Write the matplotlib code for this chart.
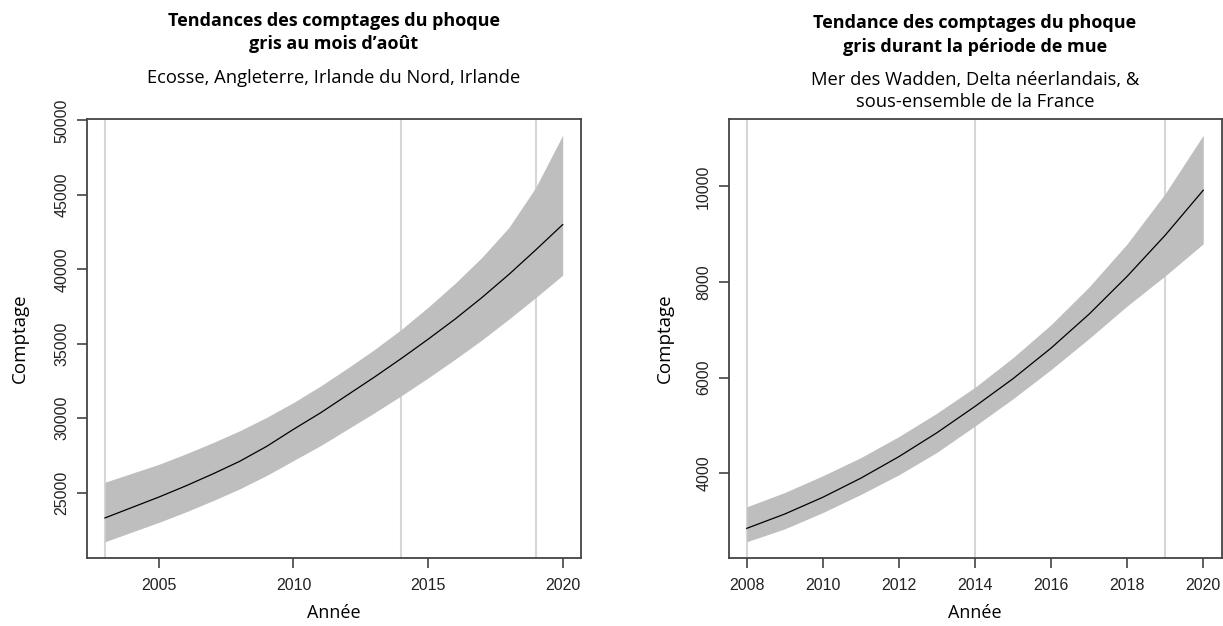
import matplotlib
matplotlib.use("Agg")
import matplotlib.pyplot as plt

# panneau gauche : comptages d'août (Ecosse, Angleterre, Irlande du Nord, Irlande)
annees_g = [2003, 2004, 2005, 2006, 2007, 2008, 2009, 2010, 2011,
            2012, 2013, 2014, 2015, 2016, 2017, 2018, 2019, 2020]
tendance_g = [23300, 24000, 24700, 25450, 26250, 27100, 28100, 29250, 30350,
              31550, 32750, 34000, 35300, 36650, 38100, 39650, 41300, 43000]
haut_g = [25700, 26300, 26900, 27600, 28350, 29150, 30050, 31050, 32150,
          33350, 34600, 35950, 37450, 39050, 40800, 42800, 45500, 49000]
bas_g = [21700, 22350, 23000, 23700, 24450, 25250, 26150, 27150, 28150,
         29250, 30350, 31500, 32700, 33950, 35250, 36650, 38100, 39600]
repères_g = [2003, 2014, 2019]
ticks_x_g = [2005, 2010, 2015, 2020]
ticks_y_g = [25000, 30000, 35000, 40000, 45000, 50000]

# panneau droit : période de mue (Mer des Wadden, Delta, France)
annees_d = [2008, 2009, 2010, 2011, 2012, 2013, 2014, 2015, 2016, 2017, 2018, 2019, 2020]
tendance_d = [2850, 3150, 3500, 3900, 4350, 4850, 5400, 5980, 6620, 7330, 8120, 8980, 9920]
haut_d = [3300, 3600, 3950, 4330, 4770, 5260, 5800, 6420, 7110, 7900, 8800, 9850, 11070]
bas_d = [2570, 2840, 3180, 3560, 3970, 4440, 4990, 5560, 6170, 6820, 7500, 8130, 8800]
repères_d = [2008, 2014, 2019]
ticks_x_d = [2008, 2010, 2012, 2014, 2016, 2018, 2020]
ticks_y_d = [4000, 6000, 8000, 10000]

W, H = 1223, 626
plt.rcParams['font.family'] = ['Liberation Sans', 'DejaVu Sans']
fig = plt.figure(figsize=(W / 100, H / 100), dpi=100)

TXT = ['Open Sans', 'DejaVu Sans']


def panneau(rect, x, y, hi, lo, reperes, xt, yt):
    ax = fig.add_axes(rect)
    for r in reperes:
        ax.axvline(r, color='#d6d6d6', lw=1.5, zorder=1)
    ax.fill_between(x, lo, hi, color='#bebebe', lw=0, zorder=2)
    ax.plot(x, y, color='black', lw=0.9, zorder=3)
    # marges de 4 % comme R
    dx = (x[-1] - x[0]) * 0.04
    ax.set_xlim(x[0] - dx, x[-1] + dx)
    dy = (max(hi) - min(lo)) * 0.04
    ax.set_ylim(min(lo) - dy, max(hi) + dy)
    ax.set_xticks(xt)
    ax.set_yticks(yt)
    ax.set_yticklabels([str(v) for v in yt], rotation=90, va='center')
    ax.tick_params(labelsize=11.5, length=7.5, width=1.1, colors='#333333',
                   labelcolor='#222222')
    ax.tick_params(axis='x', pad=7)
    ax.tick_params(axis='y', pad=5)
    for s in ax.spines.values():
        s.set_color('#444444')
        s.set_linewidth(1.3)
    return ax


bot = 1 - 558 / H
top = 1 - 119 / H
ax1 = panneau([86.7 / W, bot, (581 - 86.7) / W, top - bot],
              annees_g, tendance_g, haut_g, bas_g, repères_g, ticks_x_g, ticks_y_g)
ax2 = panneau([728.5 / W, bot, (1221.5 - 728.5) / W, top - bot],
              annees_d, tendance_d, haut_d, bas_d, repères_d, ticks_x_d, ticks_y_d)


def t(xp, yp, s, **kw):
    fig.text(xp / W, 1 - yp / H, s, ha='center', va='center', family=TXT, **kw)


# titres
t(334, 21, "Tendances des comptages du phoque", fontsize=13, fontweight='bold')
t(334, 44, "gris au mois d\u2019ao\u00fbt", fontsize=13, fontweight='bold')
t(334, 78, "Ecosse, Angleterre, Irlande du Nord, Irlande", fontsize=13.2)
t(975, 23, "Tendance des comptages du phoque", fontsize=13, fontweight='bold')
t(975, 47, "gris durant la p\u00e9riode de mue", fontsize=13, fontweight='bold')
t(975, 80, "Mer des Wadden, Delta n\u00e9erlandais, &", fontsize=13.2)
t(975, 102, "sous-ensemble de la France", fontsize=13.2)

# axes
t(20, 338, "Comptage", fontsize=13.5, rotation=90)
t(665, 338, "Comptage", fontsize=13.5, rotation=90)
t(334, 613, "Ann\u00e9e", fontsize=13)
t(975, 613, "Ann\u00e9e", fontsize=13)

fig.savefig("out.png", dpi=100)
